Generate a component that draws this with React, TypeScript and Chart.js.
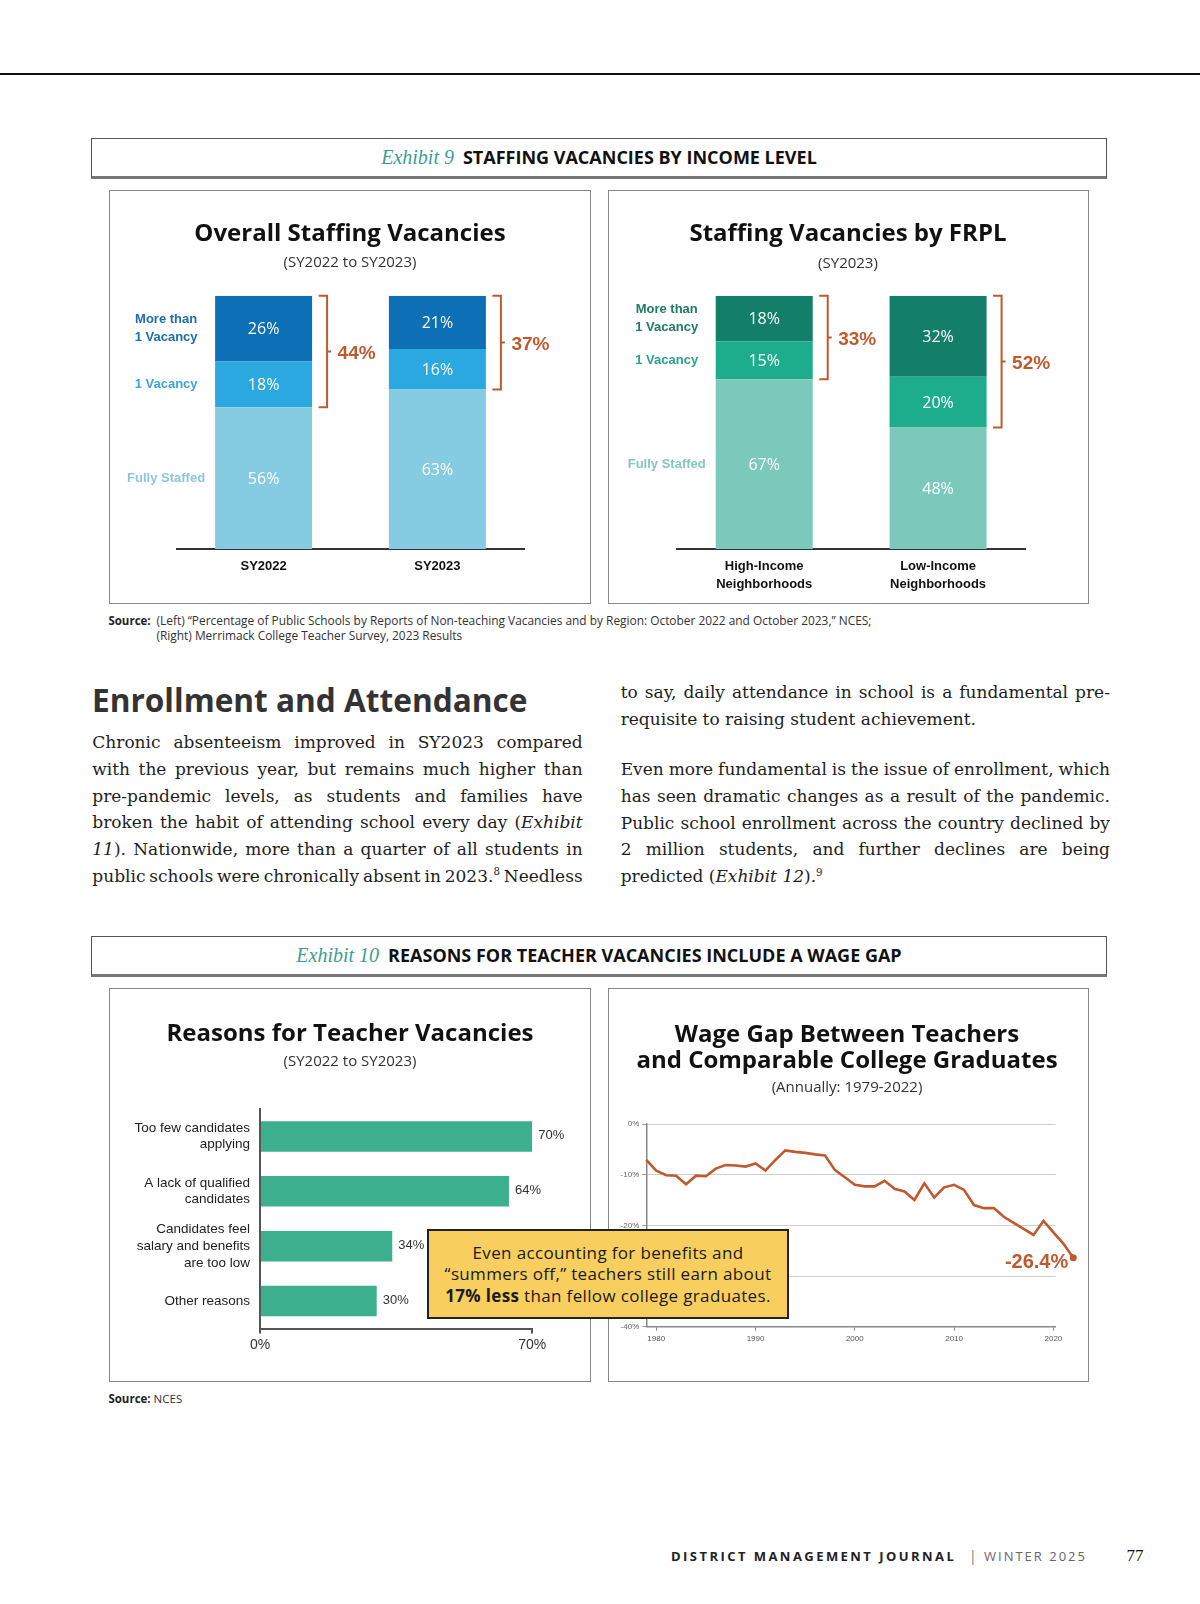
import React, { useEffect, useRef } from 'react';
import Chart from 'chart.js/auto';

// ---------- data ----------
const overallCategories = ['SY2022', 'SY2023'];
const overallFullyStaffed = [56, 63];
const overallOneVacancy = [18, 16];
const overallMoreThanOne = [26, 21];

const frplCategories = [['High-Income', 'Neighborhoods'], ['Low-Income', 'Neighborhoods']];
const frplFullyStaffed = [67, 48];
const frplOneVacancy = [15, 20];
const frplMoreThanOne = [18, 32];

const seriesNames = [['Fully Staffed'], ['1 Vacancy'], ['More than', '1 Vacancy']];

const reasonCategories = [
  ['Too few candidates', 'applying'],
  ['A lack of qualified', 'candidates'],
  ['Candidates feel', 'salary and benefits', 'are too low'],
  ['Other reasons'],
];
const reasonShares = [70, 64, 34, 30];
const reasonTicks = [0, 70];

const wageYears = [
  1979, 1980, 1981, 1982, 1983, 1984, 1985, 1986, 1987, 1988, 1989,
  1990, 1991, 1992, 1993, 1994, 1995, 1996, 1997, 1998, 1999,
  2000, 2001, 2002, 2003, 2004, 2005, 2006, 2007, 2008, 2009,
  2010, 2011, 2012, 2013, 2014, 2015, 2016, 2017, 2018, 2019,
  2020, 2021, 2022,
];
const wageGapPct = [
  -7.1, -9.2, -10.1, -10.2, -11.9, -10.2, -10.3, -8.8, -8.1, -8.2, -8.4,
  -7.8, -9.2, -7.1, -5.2, -5.5, -5.7, -6.0, -6.2, -9.1, -10.5,
  -12.0, -12.3, -12.3, -11.2, -12.8, -13.3, -15.0, -11.7, -14.5, -12.5,
  -12.0, -13.0, -16.0, -16.6, -16.6, -18.3, -19.5, -20.7, -21.9, -19.1,
  -21.4, -23.6, -26.4,
];
const wageYearTicks = [1980, 1990, 2000, 2010, 2020];

// ---------- styles ----------
const RUST = '#BF592E';
const SANS = "'Open Sans', sans-serif";
const ARIAL = "'Liberation Sans', Arial, sans-serif";
const SERIF = "'DejaVu Serif', serif";
const TIMES = "'Liberation Serif', serif";

Chart.defaults.font.family = ARIAL;

function makeStackPlugin(legendColors: string[]) {
  return {
    id: 'stackDecor',
    afterDatasetsDraw(chart: any) {
      const ctx = chart.ctx;
      const metas = [0, 1, 2].map((i) => chart.getDatasetMeta(i));
      const ds = chart.data.datasets;
      ctx.save();
      ctx.textBaseline = 'middle';
      // values inside segments
      metas.forEach((meta: any, di: number) => {
        meta.data.forEach((el: any, i: number) => {
          const p = el.getProps(['x', 'y', 'base'], true);
          ctx.fillStyle = '#ffffff';
          ctx.font = `16px ${SANS}`;
          ctx.textAlign = 'center';
          ctx.fillText(`${ds[di].data[i]}%`, p.x, (p.y + p.base) / 2 + 1);
        });
      });
      // series labels at left of first bar
      metas.forEach((meta: any, di: number) => {
        const p = meta.data[0].getProps(['x', 'y', 'base', 'width'], true);
        const lines = seriesNames[di];
        const cx = p.x - p.width / 2 - 49;
        const cy = (p.y + p.base) / 2;
        ctx.fillStyle = legendColors[di];
        ctx.font = `bold 13px ${ARIAL}`;
        ctx.textAlign = 'center';
        lines.forEach((ln, k) => ctx.fillText(ln, cx, cy + (k - (lines.length - 1) / 2) * 18.3));
      });
      // brackets with totals of vacancies
      const n = chart.data.labels.length;
      for (let i = 0; i < n; i++) {
        const t = metas[2].data[i].getProps(['x', 'y', 'width'], true);
        const m = metas[1].data[i].getProps(['base'], true);
        const right = t.x + t.width / 2;
        const y0 = t.y;
        const y1 = m.base;
        const xa = right + 6.5;
        const xb = right + 15;
        const ym = (y0 + y1) / 2;
        ctx.strokeStyle = RUST;
        ctx.lineWidth = 2;
        ctx.beginPath();
        ctx.moveTo(xa, y0);
        ctx.lineTo(xb, y0);
        ctx.lineTo(xb, y1);
        ctx.lineTo(xa, y1);
        ctx.moveTo(xb, ym);
        ctx.lineTo(xb + 4, ym);
        ctx.stroke();
        const sum = ds[1].data[i] + ds[2].data[i];
        ctx.fillStyle = RUST;
        ctx.font = `bold 19px ${ARIAL}`;
        ctx.textAlign = 'left';
        ctx.fillText(`${sum}%`, right + 25.5, ym + 2.5);
      }
      ctx.restore();
    },
  };
}

function stackedConfig(
  labels: any[],
  fully: number[],
  one: number[],
  more: number[],
  colors: string[],
  legendColors: string[],
  pad: any,
  tickPad: number,
  tickLH: number
) {
  return {
    type: 'bar',
    data: {
      labels,
      datasets: [
        { label: 'Fully Staffed', data: fully, backgroundColor: colors[0] },
        { label: '1 Vacancy', data: one, backgroundColor: colors[1] },
        { label: 'More than 1 Vacancy', data: more, backgroundColor: colors[2] },
      ],
    },
    options: {
      animation: false,
      responsive: false,
      datasets: { bar: { barPercentage: 0.558, categoryPercentage: 1, borderWidth: 0 } },
      layout: { padding: pad },
      plugins: { legend: { display: false }, tooltip: { enabled: false } },
      scales: {
        x: {
          stacked: true,
          grid: { display: false, drawTicks: false },
          border: { display: true, color: '#333', width: 2 },
          ticks: {
            color: '#111',
            font: { family: ARIAL, size: 13, weight: 'bold', lineHeight: tickLH },
            padding: tickPad,
            maxRotation: 0,
            autoSkip: false,
          },
          afterFit: (s: any) => {
            s.height = 55;
          },
        },
        y: { stacked: true, display: false, min: 0, max: 100 },
      },
    },
    plugins: [makeStackPlugin(legendColors)],
  };
}

const reasonLabelPlugin = {
  id: 'reasonLabels',
  afterDatasetsDraw(chart: any) {
    const ctx = chart.ctx;
    const meta = chart.getDatasetMeta(0);
    ctx.save();
    ctx.fillStyle = '#333';
    ctx.font = `13px ${ARIAL}`;
    ctx.textAlign = 'left';
    ctx.textBaseline = 'middle';
    meta.data.forEach((el: any, i: number) => {
      const p = el.getProps(['x', 'y'], true);
      ctx.fillText(`${chart.data.datasets[0].data[i]}%`, p.x + 6, p.y - 1);
    });
    ctx.restore();
  },
};

function reasonsConfig() {
  return {
    type: 'bar',
    data: {
      labels: reasonCategories,
      datasets: [
        { data: reasonShares, backgroundColor: '#3cb08e', barPercentage: 0.556, categoryPercentage: 1 },
      ],
    },
    options: {
      indexAxis: 'y',
      animation: false,
      responsive: false,
      layout: { padding: { left: 0, right: 58.7, top: 121, bottom: 0 } },
      plugins: { legend: { display: false }, tooltip: { enabled: false } },
      scales: {
        x: {
          min: 0,
          max: 70,
          afterBuildTicks: (s: any) => {
            s.ticks = reasonTicks.map((v) => ({ value: v }));
          },
          grid: { drawOnChartArea: false, drawTicks: true, tickLength: 5, color: '#555', lineWidth: 2 },
          border: { display: true, color: '#555', width: 2 },
          ticks: {
            callback: (v: any) => `${v}%`,
            color: '#333',
            font: { family: ARIAL, size: 14 },
            padding: 3,
            maxRotation: 0,
          },
          afterFit: (s: any) => {
            s.height = 53.5;
          },
        },
        y: {
          grid: { display: false, drawTicks: false },
          border: { display: true, color: '#555', width: 2 },
          ticks: {
            color: '#222',
            font: { family: ARIAL, size: 13.5, lineHeight: 1.23 },
            padding: 10,
            autoSkip: false,
            crossAlign: 'near',
          },
          afterFit: (s: any) => {
            s.width = 151;
          },
        },
      },
    },
    plugins: [reasonLabelPlugin],
  };
}

const wageEndPlugin = {
  id: 'wageEnd',
  afterDatasetsDraw(chart: any) {
    const ctx = chart.ctx;
    const meta = chart.getDatasetMeta(0);
    const last = meta.data[meta.data.length - 1];
    const p = last.getProps(['x', 'y'], true);
    const vals = chart.data.datasets[0].data;
    const v = vals[vals.length - 1].y;
    ctx.save();
    ctx.fillStyle = RUST;
    ctx.beginPath();
    ctx.arc(p.x, p.y, 3.5, 0, Math.PI * 2);
    ctx.fill();
    ctx.font = `bold 20px ${ARIAL}`;
    ctx.textAlign = 'right';
    ctx.textBaseline = 'middle';
    ctx.fillText(`${v}%`, p.x - 5, p.y + 4.5);
    ctx.restore();
  },
};

function wageConfig() {
  return {
    type: 'line',
    data: {
      datasets: [
        {
          data: wageYears.map((yr, i) => ({ x: yr, y: wageGapPct[i] })),
          borderColor: RUST,
          borderWidth: 2.6,
          pointRadius: 0,
          tension: 0,
          clip: false,
          fill: false,
        },
      ],
    },
    options: {
      animation: false,
      responsive: false,
      layout: { padding: { left: 0, right: 33.6, top: 136, bottom: 0 } },
      plugins: { legend: { display: false }, tooltip: { enabled: false } },
      scales: {
        x: {
          type: 'linear',
          bounds: 'data',
          afterDataLimits: (s: any) => {
            s.min = wageYears[0];
            s.max = 2020.2;
          },
          afterBuildTicks: (s: any) => {
            s.ticks = wageYearTicks.map((v) => ({ value: v }));
          },
          grid: { drawOnChartArea: false, drawTicks: true, tickLength: 4, color: '#888', lineWidth: 1 },
          border: { display: true, color: '#888', width: 1.5 },
          ticks: {
            callback: (v: any) => String(v),
            color: '#555',
            font: { family: ARIAL, size: 8 },
            padding: 3.5,
            maxRotation: 0,
            autoSkip: false,
          },
          afterFit: (s: any) => {
            s.height = 55.3;
          },
        },
        y: {
          min: -40,
          max: 0,
          ticks: {
            stepSize: 10,
            callback: (v: any) => `${v}%`,
            color: '#666',
            font: { family: ARIAL, size: 8 },
            padding: 3,
          },
          grid: { color: '#cfcfcf', lineWidth: 1, drawTicks: true, tickLength: 4, tickColor: '#999' },
          border: { display: true, color: '#888', width: 1.5 },
          afterFit: (s: any) => {
            s.width = 38.3;
          },
        },
      },
    },
    plugins: [wageEndPlugin],
  };
}

// ---------- components ----------
function ChartBox({ left, top, width, height, config }: any) {
  const ref = useRef<HTMLCanvasElement | null>(null);
  useEffect(() => {
    if (!ref.current) return;
    const chart = new Chart(ref.current, config() as any);
    return () => chart.destroy();
  }, []);
  return (
    <div style={{ position: 'absolute', left, top, width, height }}>
      <canvas ref={ref} width={width} height={height} style={{ display: 'block', width, height }} />
    </div>
  );
}

function CText({ cx, cy, lh, size, weight = 400, color = '#111', family = SANS, w = 600, children }: any) {
  return (
    <div
      style={{
        position: 'absolute',
        left: cx - w / 2,
        top: cy - lh / 2,
        width: w,
        lineHeight: `${lh}px`,
        fontSize: size,
        fontWeight: weight,
        color,
        fontFamily: family,
        textAlign: 'center',
        whiteSpace: 'nowrap',
      }}
    >
      {children}
    </div>
  );
}

function LText({ x, cy, lh, size, weight = 400, color = '#111', family = SANS, style = {}, children }: any) {
  return (
    <div
      style={{
        position: 'absolute',
        left: x,
        top: cy - lh / 2,
        lineHeight: `${lh}px`,
        fontSize: size,
        fontWeight: weight,
        color,
        fontFamily: family,
        whiteSpace: 'nowrap',
        ...style,
      }}
    >
      {children}
    </div>
  );
}

function renderWord(word: string, key: number) {
  const parts = word.split(/(_[^_]+_|\^\d+)/).filter((s) => s.length > 0);
  return (
    <span key={key}>
      {parts.map((p, i) => {
        if (p.startsWith('_')) return <i key={i}>{p.slice(1, -1)}</i>;
        if (p.startsWith('^'))
          return (
            <span key={i} style={{ fontSize: '0.6em', position: 'relative', top: '-0.62em', lineHeight: 0 }}>
              {p.slice(1)}
            </span>
          );
        return <span key={i}>{p}</span>;
      })}
    </span>
  );
}

function Para({ x, top, width, lines }: { x: number; top: number; width: number; lines: [string, boolean][] }) {
  const LH = 26.7;
  return (
    <div
      style={{
        position: 'absolute',
        left: x,
        top,
        width,
        fontFamily: SERIF,
        fontSize: 17,
        lineHeight: `${LH}px`,
        color: '#1e1e1e',
      }}
    >
      {lines.map(([text, just], i) => {
        const words = text.split(' ');
        if (just) {
          return (
            <div key={i} style={{ display: 'flex', justifyContent: 'space-between', height: LH, whiteSpace: 'nowrap' }}>
              {words.map((w, k) => renderWord(w, k))}
            </div>
          );
        }
        return (
          <div key={i} style={{ height: LH, whiteSpace: 'nowrap' }}>
            {words.map((w, k) => (
              <React.Fragment key={k}>
                {k > 0 ? ' ' : ''}
                {renderWord(w, k)}
              </React.Fragment>
            ))}
          </div>
        );
      })}
    </div>
  );
}

function ExhibitHeader({ top, num, text }: any) {
  return (
    <div
      style={{
        position: 'absolute',
        left: 91,
        top,
        width: 1016,
        height: 41,
        border: '1px solid #555',
        borderBottom: '3px solid #777',
        boxSizing: 'border-box',
        textAlign: 'center',
        lineHeight: '37px',
        whiteSpace: 'nowrap',
      }}
    >
      <span style={{ fontFamily: TIMES, fontStyle: 'italic', fontSize: 20, color: '#3a9f8e' }}>Exhibit {num}</span>
      <span style={{ fontFamily: SANS, fontWeight: 700, fontSize: 18, color: '#111', marginLeft: 9 }}>{text}</span>
    </div>
  );
}

function Panel({ left, top, w, h }: any) {
  return (
    <div
      style={{
        position: 'absolute',
        left,
        top,
        width: w,
        height: h,
        border: '1.5px solid #888',
        boxSizing: 'border-box',
      }}
    />
  );
}

const leftColumn: [string, boolean][] = [
  ['Chronic absenteeism improved in SY2023 compared', true],
  ['with the previous year, but remains much higher than', true],
  ['pre-pandemic levels, as students and families have', true],
  ['broken the habit of attending school every day (_Exhibit_', true],
  ['_11_). Nationwide, more than a quarter of all students in', true],
  ['public schools were chronically absent in 2023.^8 Needless', true],
];
const rightColumnA: [string, boolean][] = [
  ['to say, daily attendance in school is a fundamental pre-', true],
  ['requisite to raising student achievement.', false],
];
const rightColumnB: [string, boolean][] = [
  ['Even more fundamental is the issue of enrollment, which', true],
  ['has seen dramatic changes as a result of the pandemic.', true],
  ['Public school enrollment across the country declined by', true],
  ['2 million students, and further declines are being', true],
  ['predicted (_Exhibit_ _12_).^9', false],
];

export default function App() {
  return (
    <div
      style={{
        position: 'absolute',
        left: 0,
        top: 0,
        width: 1200,
        height: 1604,
        background: '#fff',
        overflow: 'hidden',
      }}
    >
      <div style={{ position: 'absolute', left: 0, top: 72.5, width: 1200, height: 2, background: '#111' }} />

      <ExhibitHeader top={138} num="9" text="STAFFING VACANCIES BY INCOME LEVEL" />
      <Panel left={109} top={190} w={482} h={414} />
      <Panel left={608} top={190} w={481} h={414} />

      <ChartBox
        left={109}
        top={190}
        width={482}
        height={414}
        config={() =>
          stackedConfig(
            overallCategories,
            overallFullyStaffed,
            overallOneVacancy,
            overallMoreThanOne,
            ['#85cce3', '#2ba8df', '#0d6fb6'],
            ['#8cc7db', '#3ba5d5', '#1c6ead'],
            { left: 67.7, right: 66.7, top: 105.7, bottom: 0 },
            10,
            1.2
          )
        }
      />
      <ChartBox
        left={608}
        top={190}
        width={481}
        height={414}
        config={() =>
          stackedConfig(
            frplCategories,
            frplFullyStaffed,
            frplOneVacancy,
            frplMoreThanOne,
            ['#7bc9bb', '#1dad8c', '#137f69'],
            ['#85c7ba', '#28a588', '#1e7c66'],
            { left: 69.3, right: 64, top: 105.7, bottom: 0 },
            9,
            1.33
          )
        }
      />

      <CText cx={350} cy={231.7} lh={30} size={24} weight={700}>Overall Staffing Vacancies</CText>
      <CText cx={350} cy={261} lh={20} size={15} color="#333">(SY2022 to SY2023)</CText>
      <CText cx={848} cy={231.7} lh={30} size={24} weight={700}>Staffing Vacancies by FRPL</CText>
      <CText cx={848} cy={261.5} lh={20} size={15} color="#333">(SY2023)</CText>

      <LText x={108.4} cy={620} lh={15} size={11.5} weight={700} color="#222">Source:</LText>
      <LText x={156.5} cy={620} lh={15} size={11.9} color="#333">
        (Left) “Percentage of Public Schools by Reports of Non-teaching Vacancies and by Region: October 2022 and October 2023,” NCES;
      </LText>
      <LText x={156.5} cy={635} lh={15} size={11.9} color="#333">(Right) Merrimack College Teacher Survey, 2023 Results</LText>

      <LText x={92} cy={700} lh={40} size={31.6} weight={700} color="#333">Enrollment and Attendance</LText>
      <Para x={92.3} top={742.7 - 13.35} width={490.4} lines={leftColumn} />
      <Para x={620.7} top={692.3 - 13.35} width={489.3} lines={rightColumnA} />
      <Para x={620.7} top={769.6 - 13.35} width={489.3} lines={rightColumnB} />

      <ExhibitHeader top={936} num="10" text="REASONS FOR TEACHER VACANCIES INCLUDE A WAGE GAP" />
      <Panel left={109} top={988} w={482} h={394} />
      <Panel left={608} top={988} w={481} h={394} />

      <ChartBox left={109} top={988} width={482} height={394} config={reasonsConfig} />
      <ChartBox left={608} top={988} width={481} height={394} config={wageConfig} />

      <CText cx={350} cy={1032} lh={30} size={24} weight={700}>Reasons for Teacher Vacancies</CText>
      <CText cx={350} cy={1060} lh={20} size={15} color="#333">(SY2022 to SY2023)</CText>
      <CText cx={847} cy={1032.5} lh={26} size={24} weight={700}>Wage Gap Between Teachers</CText>
      <CText cx={847} cy={1058.5} lh={26} size={24} weight={700}>and Comparable College Graduates</CText>
      <CText cx={847} cy={1086} lh={20} size={15} color="#333">(Annually: 1979-2022)</CText>

      <div
        style={{
          position: 'absolute',
          left: 427,
          top: 1229,
          width: 362,
          height: 90,
          background: '#F8CF5E',
          border: '2.5px solid #222',
          boxSizing: 'border-box',
          display: 'flex',
          alignItems: 'center',
          justifyContent: 'center',
          textAlign: 'center',
          fontFamily: SANS,
          fontSize: 17,
          letterSpacing: '0.35px',
          lineHeight: '21.2px',
          color: '#1a1a1a',
          whiteSpace: 'nowrap',
        }}
      >
        <div>
          Even accounting for benefits and
          <br />
          “summers off,” teachers still earn about
          <br />
          <b>17% less</b> than fellow college graduates.
        </div>
      </div>

      <LText x={108.4} cy={1398.5} lh={15} size={11.5} color="#333">
        <b style={{ color: '#222' }}>Source:</b> NCES
      </LText>

      <LText x={671} cy={1556} lh={20} size={13} weight={700} color="#222" style={{ letterSpacing: '2.45px' }}>
        DISTRICT MANAGEMENT JOURNAL
      </LText>
      <LText x={969} cy={1556} lh={20} size={14} color="#777">|</LText>
      <LText x={984} cy={1556} lh={20} size={13} color="#666" style={{ letterSpacing: '2px' }}>
        WINTER 2025
      </LText>
      <LText x={1126.5} cy={1556} lh={22} size={17} family={TIMES} color="#111">77</LText>
    </div>
  );
}
